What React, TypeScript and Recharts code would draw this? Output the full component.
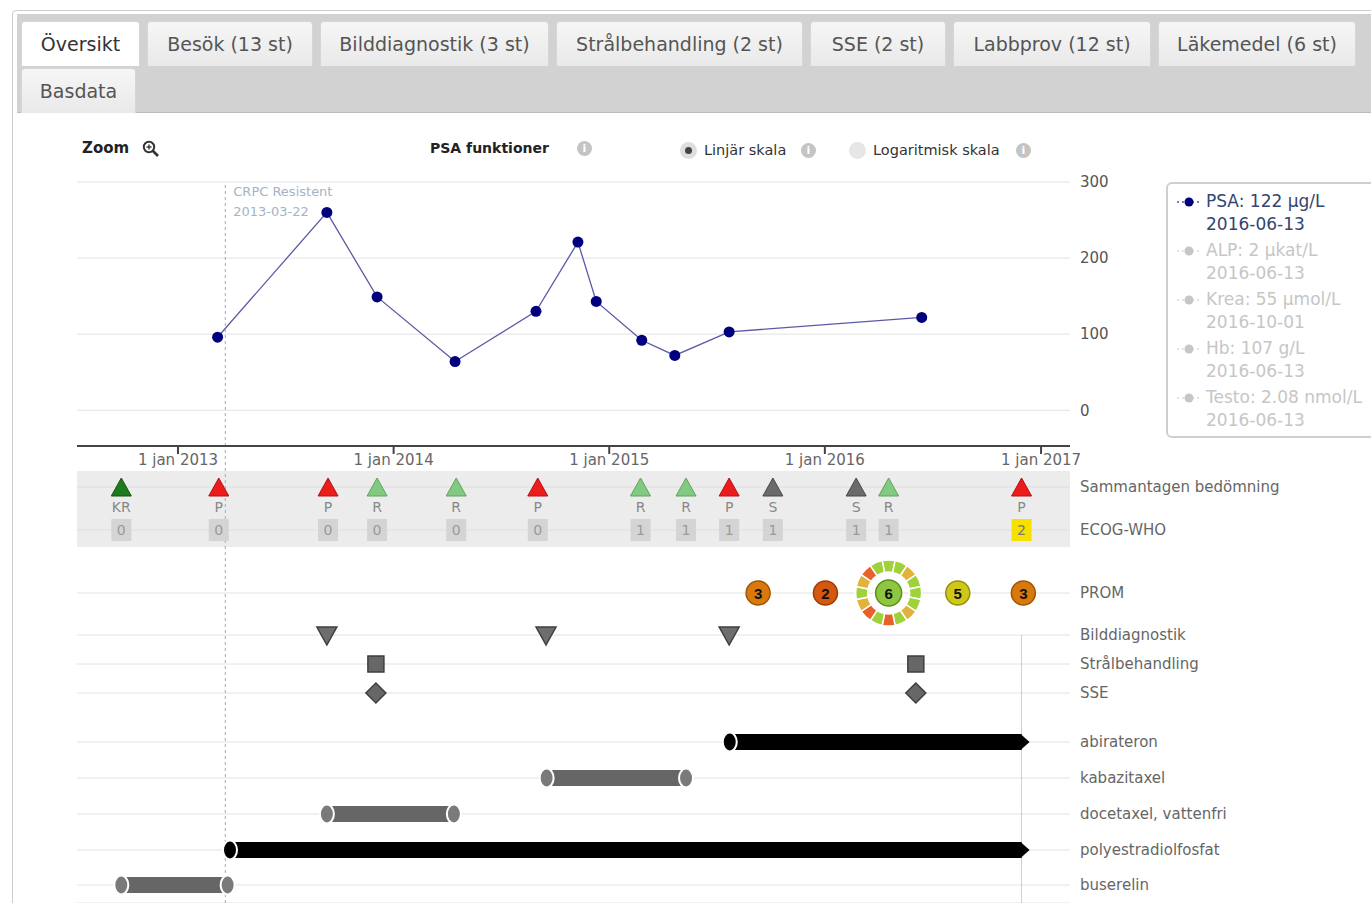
import React from 'react';
import {
  CartesianGrid,
  ComposedChart,
  Line,
  ReferenceArea,
  ReferenceLine,
  Scatter,
  XAxis,
  YAxis,
} from 'recharts';

// ---- data ----
const TABS = [
  'Översikt',
  'Besök (13 st)',
  'Bilddiagnostik (3 st)',
  'Strålbehandling (2 st)',
  'SSE (2 st)',
  'Labbprov (12 st)',
  'Läkemedel (6 st)',
  'Basdata',
];

const PSA_DATES = [
  '2013-03-09', '2013-09-10', '2013-12-04', '2014-04-15', '2014-08-30', '2014-11-09',
  '2014-12-10', '2015-02-25', '2015-04-22', '2015-07-23', '2016-06-13',
];
const PSA_VALUES = [96, 260, 149, 64, 130, 221, 143, 92, 72, 103, 122];
const PSA_TICKS = [0, 100, 200, 300];
const YEAR_TICKS = ['2013-01-01', '2014-01-01', '2015-01-01', '2016-01-01', '2017-01-01'];

const CRPC_DATE = '2013-03-22';
const TODAY = '2016-11-29';

const LAB_NAMES = ['PSA', 'ALP', 'Krea', 'Hb', 'Testo'];
const LAB_VALUES = ['122 µg/L', '2 µkat/L', '55 µmol/L', '107 g/L', '2.08 nmol/L'];
const LAB_DATES = ['2016-06-13', '2016-06-13', '2016-10-01', '2016-06-13', '2016-06-13'];

const VISIT_DATES = [
  '2012-09-27', '2013-03-11', '2013-09-12', '2013-12-04', '2014-04-17', '2014-09-02',
  '2015-02-23', '2015-05-11', '2015-07-23', '2015-10-05', '2016-02-23', '2016-04-18',
  '2016-11-29',
];
const VISIT_RESULT = ['KR', 'P', 'P', 'R', 'R', 'P', 'R', 'R', 'P', 'S', 'S', 'R', 'P'];
const VISIT_ECOG = [0, 0, 0, 0, 0, 0, 1, 1, 1, 1, 1, 1, 2];

const PROM_DATES = ['2015-09-10', '2016-01-02', '2016-04-18', '2016-08-13', '2016-12-02'];
const PROM_SCORES = [3, 2, 6, 5, 3];
const PROM_SELECTED = '2016-04-18';
// item answers of the selected PROM, clockwise from the top (0 bad, 1 mid, 2 good)
const PROM_ITEMS = [2, 2, 1, 2, 2, 2, 1, 2, 0, 2, 0, 1, 2, 1, 0, 2];

const IMAGING_DATES = ['2013-09-10', '2014-09-16', '2015-07-23'];
const RADIATION_DATES = ['2013-12-02', '2016-06-03'];
const SSE_DATES = ['2013-12-02', '2016-06-03'];

const DRUGS = ['abirateron', 'kabazitaxel', 'docetaxel, vattenfri', 'polyestradiolfosfat', 'buserelin'];
const DRUG_START = ['2015-07-24', '2014-09-17', '2013-09-10', '2013-03-30', '2012-09-27'];
const DRUG_END: (string | null)[] = [null, '2015-05-11', '2014-04-13', null, '2013-03-26'];

// ---- layout ----
const ts = (d: string) => Date.parse(d);
const X_DOMAIN = [ts('2012-07-14'), ts('2017-02-19')];
const ROW_LABELS = [
  'Sammantagen bedömning', 'ECOG-WHO', 'PROM', 'Bilddiagnostik', 'Strålbehandling', 'SSE',
  ...DRUGS,
];
const ROW_OFFSETS = [41, 84, 147, 189, 218, 247, 296, 332, 368, 404, 439];
const TAB_WIDTHS = [119, 166, 229, 247, 136, 198, 198, 115];
const rowY = (label: string) => ROW_OFFSETS[ROW_LABELS.indexOf(label)];
const FONT = '"DejaVu Sans", Verdana, sans-serif';

const VISIT_COLORS: Record<string, [string, string]> = {
  KR: ['#1e7b1e', '#135313'],
  P: ['#ec1c1c', '#b01212'],
  R: ['#82c982', '#5ea35e'],
  S: ['#6b6b6b', '#484848'],
};
const PROM_COLORS: Record<number, [string, string]> = {
  2: ['#d4580f', '#9c3d08'],
  3: ['#d9790c', '#9e5506'],
  5: ['#cfc81a', '#96900c'],
  6: ['#8dc63f', '#5f8f22'],
};
const ITEM_COLORS = ['#e8612a', '#e3b23c', '#9fd23a'];

const psaData = PSA_DATES.map((d, i) => ({ x: ts(d), psa: PSA_VALUES[i] }));
const visitData = VISIT_DATES.map((d, i) => ({ x: ts(d), y: rowY('Sammantagen bedömning'), result: VISIT_RESULT[i] }));
const ecogData = VISIT_DATES.map((d, i) => ({ x: ts(d), y: rowY('ECOG-WHO'), ecog: VISIT_ECOG[i] }));
const promData = PROM_DATES.map((d, i) => ({ x: ts(d), y: rowY('PROM'), score: PROM_SCORES[i], selected: d === PROM_SELECTED }));
const imagingData = IMAGING_DATES.map((d) => ({ x: ts(d), y: rowY('Bilddiagnostik') }));
const radiationData = RADIATION_DATES.map((d) => ({ x: ts(d), y: rowY('Strålbehandling') }));
const sseData = SSE_DATES.map((d) => ({ x: ts(d), y: rowY('SSE') }));
const drugData = DRUGS.map((name, i) => [
  { x: ts(DRUG_START[i]), y: rowY(name), cap: 'start' },
  { x: ts(DRUG_END[i] ?? TODAY), y: rowY(name), cap: DRUG_END[i] ? 'end' : 'arrow' },
]);

// ---- shapes ----
function VisitMark({ cx, cy, payload }: any) {
  const [fill, stroke] = VISIT_COLORS[payload.result];
  return (
    <g>
      <polygon points={`${cx},${cy - 9} ${cx + 10},${cy + 9} ${cx - 10},${cy + 9}`} fill={fill} stroke={stroke} strokeWidth={1} />
      <text x={cx} y={cy + 25} textAnchor="middle" fontSize={14} fill="#888" fontFamily={FONT}>{payload.result}</text>
    </g>
  );
}

function EcogMark({ cx, cy, payload }: any) {
  const high = payload.ecog >= 2;
  return (
    <g>
      <rect x={cx - 10} y={cy - 11} width={20} height={22} fill={high ? '#f7e000' : '#d4d4d4'} />
      <text x={cx} y={cy + 5} textAnchor="middle" fontSize={14} fill={high ? '#777' : '#9a9a9a'} fontFamily={FONT}>{payload.ecog}</text>
    </g>
  );
}

function sector(cx: number, cy: number, r0: number, r1: number, a0: number, a1: number) {
  const p = (r: number, a: number) => `${cx + r * Math.sin(a)},${cy - r * Math.cos(a)}`;
  return `M${p(r1, a0)} A${r1},${r1} 0 0 1 ${p(r1, a1)} L${p(r0, a1)} A${r0},${r0} 0 0 0 ${p(r0, a0)} Z`;
}

function PromMark({ cx, cy, payload }: any) {
  const [fill, stroke] = PROM_COLORS[payload.score];
  const step = (Math.PI * 2) / PROM_ITEMS.length;
  return (
    <g>
      {payload.selected &&
        PROM_ITEMS.map((v, i) => (
          <path
            key={i}
            d={sector(cx, cy, 21, 33, i * step - step / 2, i * step + step / 2)}
            fill={ITEM_COLORS[v]}
            stroke="#fff"
            strokeWidth={1.5}
          />
        ))}
      <circle cx={cx} cy={cy} r={payload.selected ? 13 : 12} fill={fill} stroke={stroke} strokeWidth={1.5} />
      <text x={cx} y={cy + 5.5} textAnchor="middle" fontSize={15} fontWeight="bold" fill="#111" fontFamily='"Liberation Sans", Arial, sans-serif'>
        {payload.score}
      </text>
    </g>
  );
}

const DownTriangle = ({ cx, cy }: any) => (
  <polygon points={`${cx - 10},${cy - 8} ${cx + 10},${cy - 8} ${cx},${cy + 10}`} fill="#6e6e6e" stroke="#3f3f3f" strokeWidth={1.5} />
);
const SquareMark = ({ cx, cy }: any) => (
  <rect x={cx - 8} y={cy - 8} width={16} height={16} fill="#676767" stroke="#3f3f3f" strokeWidth={1.5} />
);
const DiamondMark = ({ cx, cy }: any) => (
  <polygon points={`${cx},${cy - 10} ${cx + 10},${cy} ${cx},${cy + 10} ${cx - 10},${cy}`} fill="#676767" stroke="#3f3f3f" strokeWidth={1.5} />
);

function drugCap(color: string) {
  return ({ cx, cy, payload }: any) => {
    if (payload.cap === 'arrow') {
      return <polygon points={`${cx - 1},${cy - 8} ${cx + 8},${cy} ${cx - 1},${cy + 8}`} fill={color} />;
    }
    const capColor = color === '#000' ? '#000' : '#7a7a7a';
    return <ellipse cx={cx} cy={cy} rx={7} ry={9.5} fill={capColor} stroke="#fff" strokeWidth={2} />;
  };
}

function RowTick({ x, y, payload }: any) {
  return (
    <text x={x} y={y} dy={5} fill="#666" fontSize={15} fontFamily={FONT}>
      {ROW_LABELS[ROW_OFFSETS.indexOf(payload.value)]}
    </text>
  );
}

function CrpcLabel(props: any) {
  const vb = props.viewBox || { x: 0, y: 0 };
  return (
    <g fontFamily={FONT} fontSize={13} fill="#a6b3c6">
      <text x={vb.x + 8} y={vb.y + 14}>CRPC Resistent</text>
      <text x={vb.x + 8} y={vb.y + 34}>{CRPC_DATE}</text>
    </g>
  );
}

// ---- html bits ----
const Info = ({ left, top }: { left: number; top: number }) => (
  <div
    style={{
      position: 'absolute', left, top, width: 15, height: 15, borderRadius: 8, background: '#c4c4c4',
      color: '#fff', fontSize: 11, fontWeight: 'bold', textAlign: 'center', lineHeight: '15px', fontFamily: FONT,
    }}
  >
    i
  </div>
);

const Radio = ({ left, top, on }: { left: number; top: number; on: boolean }) => (
  <div
    style={{
      position: 'absolute', left, top, width: 17, height: 17, borderRadius: 9,
      background: on ? '#dedede' : '#e6e6e6', display: 'flex', alignItems: 'center', justifyContent: 'center',
    }}
  >
    {on && <div style={{ width: 7, height: 7, borderRadius: 4, background: '#444' }} />}
  </div>
);

const label = (text: string, left: number, top: number, style: React.CSSProperties = {}) => (
  <div style={{ position: 'absolute', left, top, lineHeight: '18px', whiteSpace: 'nowrap', ...style }}>{text}</div>
);

export default function App() {
  const tickStyle = { fontSize: 15, fill: '#666', fontFamily: FONT };
  return (
    <div
      style={{
        position: 'absolute', left: 0, top: 0, width: 1371, height: 903, overflow: 'hidden',
        background: '#fff', fontFamily: FONT,
      }}
    >
      {/* panel + tab bar */}
      <div style={{ position: 'absolute', left: 12, top: 10, width: 1400, height: 950, border: '1px solid #cdcdcd', borderRadius: 4 }} />
      <div style={{ position: 'absolute', left: 17, top: 14, width: 1400, height: 98, background: '#d2d2d2', borderBottom: '1px solid #bcbcbc' }} />
      <div style={{ position: 'absolute', left: 21, top: 21, width: 1345, display: 'flex', flexWrap: 'wrap', columnGap: 7, rowGap: 2 }}>
        {TABS.map((t, i) => (
          <div
            key={t}
            style={{
              width: TAB_WIDTHS[i], height: 45, boxSizing: 'border-box', display: 'flex', alignItems: 'center',
              justifyContent: 'center', fontSize: 19, color: i === 0 ? '#333' : '#555',
              background: i === 0 ? '#fff' : 'linear-gradient(#f6f6f6, #e9e9e9)',
              border: '1px solid #d6d6d6', borderBottom: 'none', borderRadius: '4px 4px 0 0', whiteSpace: 'nowrap',
            }}
          >
            {t}
          </div>
        ))}
      </div>

      {/* toolbar */}
      {label('Zoom', 82, 139, { fontWeight: 'bold', fontSize: 15, color: '#222' })}
      <svg style={{ position: 'absolute', left: 142, top: 140 }} width={18} height={18}>
        <circle cx={7} cy={7} r={5.2} fill="none" stroke="#333" strokeWidth={2} />
        <line x1={11} y1={11} x2={16} y2={16} stroke="#333" strokeWidth={2.6} />
        <line x1={4.5} y1={7} x2={9.5} y2={7} stroke="#333" strokeWidth={1.4} />
        <line x1={7} y1={4.5} x2={7} y2={9.5} stroke="#333" strokeWidth={1.4} />
      </svg>
      {label('PSA funktioner', 430, 139, { fontWeight: 'bold', fontSize: 14, color: '#222' })}
      <Info left={577} top={141} />
      <Radio left={680} top={142} on />
      {label('Linjär skala', 704, 141, { fontSize: 14.5, color: '#333' })}
      <Info left={801} top={143} />
      <Radio left={849} top={142} on={false} />
      {label('Logaritmisk skala', 873, 141, { fontSize: 14.5, color: '#333' })}
      <Info left={1016} top={143} />

      {/* timeline rows */}
      <div style={{ position: 'absolute', left: 0, top: 446 }}>
        <ComposedChart width={1371} height={457} margin={{ top: 0, right: 211, bottom: 0, left: 77 }}>
          <XAxis dataKey="x" type="number" domain={X_DOMAIN} hide allowDataOverflow />
          <YAxis
            dataKey="y"
            type="number"
            orientation="right"
            domain={[0, 457]}
            reversed
            allowDataOverflow
            ticks={ROW_OFFSETS}
            interval={0}
            width={90}
            axisLine={false}
            tickLine={false}
            tickSize={0}
            tickMargin={10}
            tick={<RowTick />}
          />
          <CartesianGrid vertical={false} stroke="#e2e2e2" />
          <ReferenceArea x1={X_DOMAIN[0]} x2={X_DOMAIN[1]} y1={25} y2={101} fill="#d9d9d9" fillOpacity={0.5} stroke="none" />
          <ReferenceLine x={ts(CRPC_DATE)} stroke="#9aacca" strokeDasharray="3 3" />
          <ReferenceLine
            segment={[{ x: ts(TODAY), y: rowY('Bilddiagnostik') }, { x: ts(TODAY), y: 457 }]}
            stroke="#cfcfcf"
          />
          <Scatter data={visitData} shape={VisitMark} isAnimationActive={false} />
          <Scatter data={ecogData} shape={EcogMark} isAnimationActive={false} />
          <Scatter data={promData} shape={PromMark} isAnimationActive={false} />
          <Scatter data={imagingData} shape={DownTriangle} isAnimationActive={false} />
          <Scatter data={radiationData} shape={SquareMark} isAnimationActive={false} />
          <Scatter data={sseData} shape={DiamondMark} isAnimationActive={false} />
          {drugData.map((d, i) => {
            const color = DRUG_END[i] ? '#666' : '#000';
            return (
              <Scatter
                key={DRUGS[i]}
                data={d}
                fill={color}
                line={{ stroke: color, strokeWidth: 16 }}
                lineType="joint"
                shape={drugCap(color)}
                isAnimationActive={false}
              />
            );
          })}
        </ComposedChart>
      </div>

      {/* PSA chart */}
      <div style={{ position: 'absolute', left: 0, top: 170 }}>
        <ComposedChart width={1371} height={302} data={psaData} margin={{ top: 12, right: 211, bottom: 0, left: 77 }}>
          <CartesianGrid vertical={false} stroke="#e2e2e2" />
          <XAxis
            dataKey="x"
            type="number"
            domain={X_DOMAIN}
            allowDataOverflow
            ticks={YEAR_TICKS.map(ts)}
            interval={0}
            tickFormatter={(v: number) => `1 jan ${new Date(v).getUTCFullYear()}`}
            height={26}
            tickSize={8}
            tickMargin={0}
            stroke="#444"
            strokeWidth={2}
            tick={tickStyle}
          />
          <YAxis
            type="number"
            orientation="right"
            domain={[-47, 300]}
            allowDataOverflow
            ticks={PSA_TICKS}
            interval={0}
            width={90}
            axisLine={false}
            tickLine={false}
            tickSize={0}
            tickMargin={10}
            tick={{ ...tickStyle, fill: '#555' }}
          />
          <ReferenceLine x={ts(CRPC_DATE)} stroke="#9aacca" strokeDasharray="3 3" label={<CrpcLabel />} />
          <Line
            dataKey="psa"
            stroke="#5a5aa6"
            strokeWidth={1.3}
            dot={{ r: 5.5, fill: '#00007f', stroke: '#00007f', strokeWidth: 0 }}
            activeDot={false}
            isAnimationActive={false}
          />
        </ComposedChart>
      </div>

      {/* lab legend */}
      <div
        style={{
          position: 'absolute', left: 1166, top: 182, width: 240, height: 256,
          border: '2px solid #cfcfcf', borderRadius: 6, boxSizing: 'border-box', background: '#fff',
        }}
      >
        {LAB_NAMES.map((name, i) => {
          const active = i === 0;
          const color = active ? '#34456e' : '#c6c6c6';
          return (
            <div key={name} style={{ position: 'absolute', left: 8, top: 6 + i * 49, fontSize: 17, lineHeight: '23px', color }}>
              <svg style={{ position: 'absolute', left: 0, top: 7 }} width={24} height={10}>
                <line x1={1} y1={5} x2={23} y2={5} stroke={active ? '#00007f' : '#c6c6c6'} strokeWidth={1.2} strokeDasharray="2 3" />
                <circle cx={13} cy={5} r={4.5} fill={active ? '#00007f' : '#c6c6c6'} />
              </svg>
              <div style={{ marginLeft: 30, whiteSpace: 'nowrap' }}>{`${name}: ${LAB_VALUES[i]}`}</div>
              <div style={{ marginLeft: 30 }}>{LAB_DATES[i]}</div>
            </div>
          );
        })}
      </div>
    </div>
  );
}
